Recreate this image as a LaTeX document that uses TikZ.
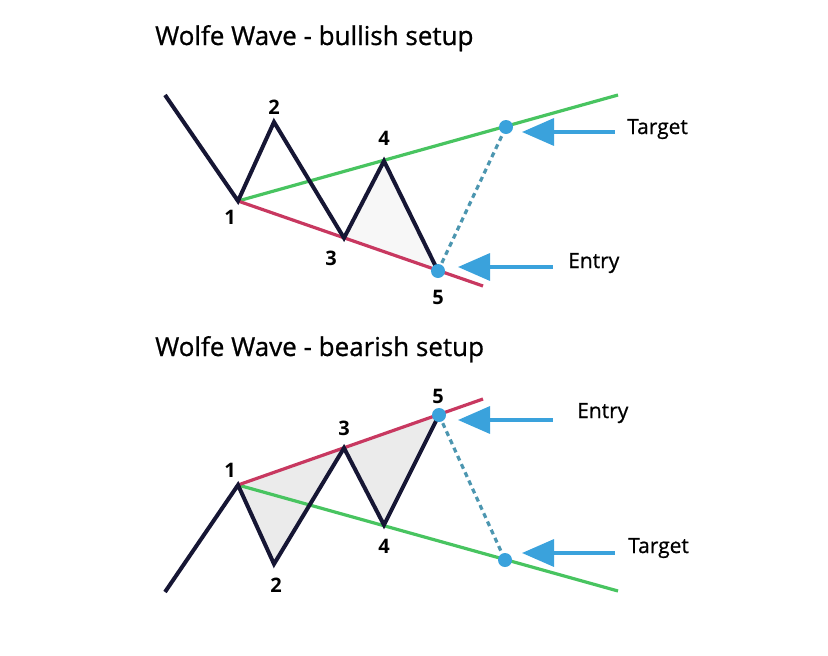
\documentclass[tikz,border=0pt]{standalone}
\usepackage{fontspec}
\setmainfont{Open Sans}
\newfontfamily\headfont{Open Sans}[FakeBold=0.8]
\usepackage{tikz}
\usetikzlibrary{arrows.meta,positioning,calc}
\usepackage{xcolor}
\definecolor{wavenavy}{RGB}{22,22,52}
\definecolor{wavegreen}{RGB}{72,196,96}
\definecolor{wavered}{RGB}{200,56,96}
\definecolor{waveblue}{RGB}{58,162,220}
\definecolor{waveteal}{RGB}{76,150,176}

\tikzset{
  wave/.style={line width=4pt, wavenavy, line join=miter},
  supline/.style={line width=3.2pt, wavegreen},
  resline/.style={line width=3.2pt, wavered},
  projline/.style={line width=3.2pt, waveteal, dash pattern=on 5pt off 4pt},
  callout/.style={line width=3.4pt, waveblue, {Triangle[length=32pt,width=27pt]}-},
  ptlabel/.style={font=\fontsize{20}{20}\selectfont\bfseries, inner sep=0pt},
  sidelabel/.style={font=\fontsize{21}{21}\headfont, anchor=base west, inner sep=0pt},
  titlelabel/.style={font=\fontsize{26}{26}\headfont, anchor=base west, inner sep=0pt},
}

\begin{document}
\begin{tikzpicture}[x=1pt, y=-1pt]
  \useasboundingbox (0,0) rectangle (828,656);
  % ---- bullish ----
  \node[titlelabel] (title1) at (155,45) {Wolfe Wave - bullish setup};
  \coordinate (S) at (165,95);
  \coordinate (P1) at (238,201);
  \coordinate (P2) at (274,122);
  \coordinate (P3) at (344,238);
  \coordinate (P4) at (384,161);
  \coordinate (P5) at (438,271);
  \coordinate (G) at (618,95);
  \coordinate (R) at (483,286);
  \coordinate (T) at (506,127);
  % faint fill
  \fill[black!3] (P3) -- (P4) -- (P5) -- cycle;
  % trend lines
  \draw[supline] (P1) -- (G);
  \draw[resline] (P1) -- (R);
  \draw[projline] (P5) -- (T);
  % waves
  \draw[wave] (S) -- (P1) -- (P2) -- (P3) -- (P4) -- (P5);
  \fill[waveblue] (P5) circle (7pt);
  \fill[waveblue] (T) circle (7pt);
  % labels
  \node[ptlabel] (n1) at (230,217) {1};
  \node[ptlabel] (n2) at (274,107) {2};
  \node[ptlabel] (n3) at (331,258) {3};
  \node[ptlabel] (n4) at (384,138) {4};
  \node[ptlabel] (n5) at (438,297) {5};
  % callouts
  \coordinate (ta) at (522,132);
  \coordinate (tb) at (615,132);
  \draw[callout] (ta) -- (tb);
  \node[sidelabel] (tgt1) at (627,134) {Target};
  \coordinate (ea) at (458,267);
  \coordinate (eb) at (553,267);
  \draw[callout] (ea) -- (eb);
  \node[sidelabel] (ent1) at (568,268) {Entry};

  % ---- bearish ----
  \node[titlelabel] (title2) at (155,356) {Wolfe Wave - bearish setup};
  \coordinate (S') at (165,592);
  \coordinate (Q1) at (238,485);
  \coordinate (Q2) at (274,564);
  \coordinate (Q3) at (344,448);
  \coordinate (Q4) at (384,525);
  \coordinate (Q5) at (439,415);
  \coordinate (G') at (618,591);
  \coordinate (R') at (483,399);
  \coordinate (T') at (505,560);
  % shaded area
  \fill[black!8] (Q1) -- (Q2) -- (Q3) -- cycle;
  \fill[black!8] (Q3) -- (Q4) -- (Q5) -- cycle;
  % trend lines
  \draw[supline] (Q1) -- (G');
  \draw[resline] (Q1) -- (R');
  \draw[projline] (Q5) -- (T');
  % waves
  \draw[wave] (S') -- (Q1) -- (Q2) -- (Q3) -- (Q4) -- (Q5);
  \fill[waveblue] (Q5) circle (7pt);
  \fill[waveblue] (T') circle (7pt);
  % labels
  \node[ptlabel] (m1) at (230,470) {1};
  \node[ptlabel] (m2) at (276,585) {2};
  \node[ptlabel] (m3) at (344,428) {3};
  \node[ptlabel] (m4) at (384,546) {4};
  \node[ptlabel] (m5) at (438,396) {5};
  % callouts
  \coordinate (ea') at (458,420);
  \coordinate (eb') at (553,420);
  \draw[callout] (ea') -- (eb');
  \node[sidelabel] (ent2) at (577,418) {Entry};
  \coordinate (ta') at (522,553);
  \coordinate (tb') at (615,553);
  \draw[callout] (ta') -- (tb');
  \node[sidelabel] (tgt2) at (628,553) {Target};
\end{tikzpicture}
\end{document}
